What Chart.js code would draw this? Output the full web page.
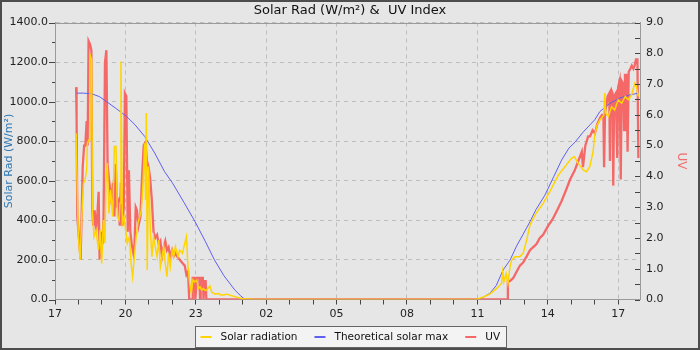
<!DOCTYPE html>
<html>
<head>
<meta charset="utf-8">
<script src="https://cdn.jsdelivr.net/npm/chart.js@4.4.1/dist/chart.umd.min.js"></script>
<style>
  html, body { margin: 0; padding: 0; background: #e6e6e6; }
  canvas { display: block; }
</style>
</head>
<body>
<canvas id="solarChart" width="700" height="350"></canvas>
<script>
// x values are hours counted from 17:00 on the first day
const START_HOUR = 17;
const X_MAX = 24.93;

const solarTimes = [
  0.9, 0.99, 1.07, 1.14, 1.21, 1.28, 1.35, 1.38, 1.45, 1.49, 1.56, 1.6, 1.66, 1.75, 1.85, 1.92, 1.99,
  2.06, 2.13, 2.17, 2.23, 2.3, 2.37, 2.46, 2.53, 2.6, 2.66, 2.73, 2.77, 2.81, 2.87, 2.94, 3.01, 3.08,
  3.17, 3.24, 3.31, 3.38, 3.46, 3.53, 3.61, 3.68, 3.75, 3.82, 3.86, 3.89, 3.93, 3.99, 4.06, 4.13, 4.2,
  4.27, 4.35, 4.42, 4.49, 4.56, 4.63, 4.7, 4.77, 4.84, 4.91, 4.99, 5.06, 5.13, 5.24, 5.31, 5.43, 5.53,
  5.6, 5.67, 5.74, 5.81, 5.88, 5.95, 6.04, 6.11, 6.18, 6.25, 6.32, 6.39, 6.46, 6.6, 6.67, 6.82, 6.96,
  7.1, 7.32, 7.53, 7.74, 7.95, 8.1, 8.3, 8.45,
  17.95, 18.25, 18.53, 18.82, 19.03, 19.08, 19.13, 19.22, 19.3, 19.39, 19.46, 19.6, 19.8, 19.95, 20.1,
  20.24, 20.5, 20.8, 21.05, 21.16, 21.45, 21.73, 22.01, 22.13, 22.3, 22.51, 22.65, 22.79, 22.93, 23.0,
  23.1, 23.22, 23.38, 23.43, 23.47, 23.58, 23.72, 23.85, 24.0, 24.15, 24.3, 24.43, 24.57, 24.71, 24.78,
  24.86
];
const solarRad = [
  840, 334, 199, 419, 587, 604, 655, 790, 807, 1237, 1212, 435, 317, 351, 250, 351, 182,
  402, 284, 587, 689, 435, 554, 419, 773, 773, 419, 402, 486, 1203, 385, 419, 351, 284,
  317, 182, 115, 216, 317, 385, 419, 452, 587, 790, 503, 942, 149, 672, 351, 216, 317,
  267, 216, 300, 165, 216, 267, 182, 115, 233, 165, 250, 216, 267, 216, 250, 233, 284,
  317, 165, 81, 30, 100, 89, 98, 56, 64, 47, 56, 47, 47, 69, 39, 27, 30,
  22, 27, 19, 12, 5, 3, 2, 0,
  0, 13, 27, 56, 81, 140, 90, 131, 80, 165, 199, 216, 216, 233, 300,
  376, 435, 486, 537, 562, 629, 671, 714, 722, 688, 655, 646, 671, 747, 830,
  880, 908, 930, 1043, 942, 925, 975, 958, 1009, 992, 1026, 1009, 1034, 1093, 1076,
  1026
];

const maxTimes = [
  0.92, 1.2, 1.56, 1.9, 2.2, 2.63, 3.05, 3.41, 3.83, 4.25, 4.67, 5.0, 5.5, 5.97, 6.4, 6.8, 7.2, 7.67,
  7.9, 8.1,
  17.95, 18.2, 18.53, 18.8, 19.1, 19.39, 19.67, 19.95, 20.24, 20.5, 20.88, 21.25, 21.59, 21.9, 22.16,
  22.5, 22.8, 23.0, 23.22, 23.65, 24.07, 24.5, 24.86
];
const maxRad = [
  1043, 1043, 1040, 1025, 1000, 963, 925, 883, 823, 740, 646, 590, 490, 393, 295, 199, 120, 47,
  20, 0,
  0, 8, 31, 70, 150, 199, 270, 330, 393, 455, 528, 620, 705, 765, 795,
  845, 883, 908, 950, 992, 1018, 1034, 1043
];

const uvTimes = [
  0.9, 0.92, 0.95, 1.02, 1.09, 1.14, 1.18, 1.24, 1.29, 1.35, 1.39, 1.43, 1.49, 1.55, 1.59, 1.63, 1.69,
  1.75, 1.8, 1.86, 1.9, 1.96, 2.02, 2.07, 2.13, 2.19, 2.24, 2.3, 2.36, 2.41, 2.47, 2.53, 2.59, 2.64,
  2.7, 2.76, 2.81, 2.87, 2.93, 2.98, 3.04, 3.1, 3.15, 3.21, 3.27, 3.34, 3.39, 3.44, 3.49, 3.56, 3.64,
  3.71, 3.78, 3.85, 3.92, 3.99, 4.06, 4.13, 4.2, 4.27, 4.35, 4.42, 4.49, 4.56, 4.63, 4.7, 4.77, 4.84,
  4.91, 4.99, 5.06, 5.13, 5.2, 5.31, 5.41, 5.53, 5.6, 5.67, 5.72, 5.85, 5.87, 5.95, 5.98, 6.05, 6.15,
  6.18, 6.21, 6.3, 6.33, 6.38, 6.42, 6.45,
  19.29, 19.3, 19.39, 19.53, 19.67, 19.81, 19.95, 20.1, 20.24, 20.38, 20.52, 20.66, 20.8, 21.02, 21.2,
  21.4, 21.59, 21.8, 21.95, 22.15, 22.3, 22.45, 22.5, 22.6, 22.72, 22.8, 22.91, 23.01, 23.11, 23.23,
  23.31, 23.37, 23.4, 23.44, 23.5, 23.55, 23.62, 23.65, 23.68, 23.71, 23.76, 23.79, 23.83, 23.9, 23.96,
  24.0, 24.06, 24.11, 24.15, 24.22, 24.25, 24.29, 24.36, 24.4, 24.45, 24.52, 24.58, 24.65, 24.7, 24.76,
  24.82, 24.86
];
const uvIndex = [
  6.9, 5.9, 2.7, 2.0, 1.3, 2.9, 4.3, 5.0, 5.0, 5.8, 5.0, 8.4, 8.3, 8.1, 2.9, 2.4, 2.9,
  2.2, 2.7, 3.5, 1.3, 2.2, 1.8, 2.7, 7.7, 8.1, 4.4, 3.9, 3.5, 3.1, 3.8, 2.7, 4.4, 3.1,
  3.2, 2.4, 3.8, 2.4, 3.0, 6.7, 6.6, 2.2, 4.2, 2.2, 1.8, 1.5, 1.8, 3.0, 2.9, 2.4, 2.7,
  4.0, 5.0, 5.1, 4.5, 4.3, 3.9, 3.2, 2.2, 2.0, 2.1, 1.8, 1.9, 1.4, 1.7, 1.9, 1.6, 1.7,
  1.4, 1.6, 1.4, 1.5, 1.4, 1.3, 1.2, 1.1, 0.8, 0.9, 0, 0, 0.7, 0.7, 0, 0.7, 0.7,
  0, 0.7, 0.7, 0, 0.6, 0.6, 0,
  0, 0.6, 0.6, 0.7, 0.9, 1.1, 1.2, 1.4, 1.6, 1.7, 1.8, 2.0, 2.1, 2.4, 2.6,
  2.9, 3.2, 3.6, 3.9, 4.2, 4.5, 4.8, 4.3, 5.0, 5.3, 5.3, 5.5, 5.4, 5.7, 5.9,
  6.0, 6.0, 4.3, 6.1, 6.3, 6.6, 6.7, 4.5, 6.7, 6.8, 6.7, 3.7, 6.6, 6.7, 4.6,
  6.9, 7.1, 3.9, 7.1, 7.0, 5.5, 7.3, 7.3, 4.8, 7.4, 7.5, 7.6, 7.5, 7.6, 7.8,
  7.8, 4.6
];

const xTickStep = 3;
const leftLabelStep = 200;

function toPoints(times, values) {
  return times.map((t, i) => ({ x: t, y: values[i] }));
}

function hourLabel(v) {
  return String((START_HOUR + v) % 24).padStart(2, '0');
}

const GRID = '#bdbdbd';
const AXIS = '#9a9a9a';

// background, frame, title, custom ticks and boxed legend
const decorPlugin = {
  id: 'decor',
  beforeDraw(chart) {
    const { ctx, width, height } = chart;
    ctx.save();
    ctx.fillStyle = '#e6e6e6';
    ctx.fillRect(0, 0, width, height);
    ctx.restore();
  },
  afterDraw(chart) {
    const { ctx, chartArea: a, scales, width, height } = chart;
    ctx.save();
    ctx.lineWidth = 1;
    ctx.strokeStyle = AXIS;
    ctx.beginPath();
    ctx.moveTo(a.left, Math.round(a.top) + 0.5);
    ctx.lineTo(a.right, Math.round(a.top) + 0.5);
    ctx.stroke();

    ctx.strokeStyle = '#444';
    ctx.beginPath();
    scales.y.ticks.forEach((t) => {
      const y = Math.round(scales.y.getPixelForValue(t.value)) + 0.5;
      const len = t.value % leftLabelStep === 0 ? 6 : 3;
      ctx.moveTo(a.left - len, y);
      ctx.lineTo(a.left, y);
    });
    scales.y1.ticks.forEach((t) => {
      const y = Math.round(scales.y1.getPixelForValue(t.value)) + 0.5;
      ctx.moveTo(a.right - 5, y);
      ctx.lineTo(a.right, y);
    });
    ctx.stroke();

    ctx.fillStyle = '#111';
    ctx.font = '13px "DejaVu Sans"';
    ctx.textAlign = 'center';
    ctx.textBaseline = 'middle';
    ctx.fillText('Solar Rad (W/m\u00B2) &  UV Index', width / 2, 11);

    // legend
    ctx.font = '10.5px "DejaVu Sans"';
    ctx.textAlign = 'left';
    const items = chart.data.datasets.map((ds) => ({
      label: ds.label, color: ds.borderColor, w: ctx.measureText(ds.label).width,
    }));
    const lineW = 11, lineGap = 9, itemGap = 17, pad = 5;
    let total = 0;
    items.forEach((it, i) => { total += lineW + lineGap + it.w + (i ? itemGap : 0); });
    const boxW = Math.round(total + pad * 2 + 1);
    const boxL = Math.round(width / 2 - boxW / 2) + 0.5;
    const boxT = 326.5, boxH = 21;
    ctx.fillStyle = '#f3f3f3';
    ctx.fillRect(boxL, boxT, boxW, boxH);
    ctx.strokeStyle = '#666';
    ctx.strokeRect(boxL, boxT, boxW, boxH);
    let x = boxL + pad;
    const cy = boxT + boxH / 2;
    items.forEach((it) => {
      ctx.strokeStyle = it.color;
      ctx.lineWidth = 2;
      ctx.beginPath();
      ctx.moveTo(x, cy);
      ctx.lineTo(x + lineW, cy);
      ctx.stroke();
      ctx.fillStyle = '#111';
      ctx.fillText(it.label, x + lineW + lineGap, cy);
      x += lineW + lineGap + it.w + itemGap;
    });

    ctx.lineWidth = 2;
    ctx.strokeStyle = '#4d4d4d';
    ctx.strokeRect(1, 1, width - 2, height - 2);
    ctx.restore();
  },
};

Chart.defaults.font.family = '"DejaVu Sans", sans-serif';
Chart.defaults.font.size = 11;
Chart.defaults.color = '#222';

new Chart(document.getElementById('solarChart'), {
  type: 'line',
  data: {
    datasets: [
      {
        label: 'Solar radiation',
        data: toPoints(solarTimes, solarRad),
        borderColor: '#ffd400',
        borderWidth: 1.5,
        yAxisID: 'y',
      },
      {
        label: 'Theoretical solar max',
        data: toPoints(maxTimes, maxRad),
        borderColor: '#5f5ff2',
        borderWidth: 1,
        yAxisID: 'y',
      },
      {
        label: 'UV',
        data: toPoints(uvTimes, uvIndex),
        borderColor: '#f56868',
        borderWidth: 2.3,
        yAxisID: 'y1',
      },
    ],
  },
  options: {
    responsive: false,
    animation: false,
    events: [],
    layout: { padding: { top: 22.5, bottom: 30.5, left: 0, right: 0 } },
    elements: { point: { radius: 0 }, line: { tension: 0 } },
    plugins: { legend: { display: false }, title: { display: false }, tooltip: { enabled: false } },
    scales: {
      x: {
        type: 'linear',
        min: 0,
        max: X_MAX,
        afterFit: (s) => { s.height = 20; },
        ticks: {
          stepSize: 1,
          autoSkip: false,
          includeBounds: false,
          maxRotation: 0,
          padding: 3,
          callback: (v) => (v % xTickStep === 0 ? hourLabel(v) : ''),
        },
        grid: {
          color: (c) => (c.tick && c.tick.value % xTickStep === 0 ? GRID : 'rgba(0,0,0,0)'),
          tickColor: '#444',
          tickLength: 5,
        },
        border: { color: AXIS, dash: [4, 4] },
      },
      y: {
        position: 'left',
        min: 0,
        max: 1400,
        afterFit: (s) => { s.width = 55; },
        ticks: {
          stepSize: 100,
          autoSkip: false,
          padding: 7,
          callback: (v) => (v % leftLabelStep === 0 ? v.toFixed(1) : ''),
        },
        grid: {
          drawTicks: false,
          color: (c) => (c.tick && c.tick.value % leftLabelStep === 0 ? GRID : 'rgba(0,0,0,0)'),
        },
        border: { color: AXIS, dash: [4, 4] },
        title: {
          display: true,
          text: 'Solar Rad (W/m\u00B2)',
          color: '#2f78b4',
          font: { size: 11 },
          padding: { top: 3, bottom: 0 },
        },
      },
      y1: {
        position: 'right',
        min: 0,
        max: 9,
        afterFit: (s) => { s.width = 60; },
        ticks: {
          stepSize: 0.5,
          autoSkip: false,
          padding: 6,
          callback: (v) => (Number.isInteger(v) ? v.toFixed(1) : ''),
        },
        grid: { drawOnChartArea: false, drawTicks: false },
        border: { color: AXIS },
        title: {
          display: true,
          text: 'UV',
          color: '#f26b6b',
          font: { size: 12 },
          padding: { top: 12, bottom: 0 },
        },
      },
    },
  },
  plugins: [decorPlugin],
});
</script>
</body>
</html>
